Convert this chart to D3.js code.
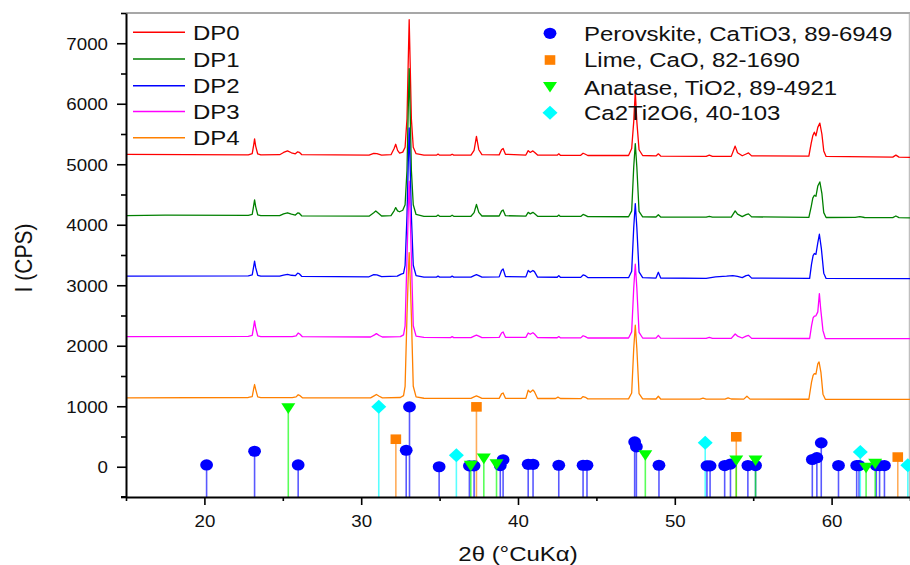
<!DOCTYPE html>
<html><head><meta charset="utf-8">
<script src="https://cdn.jsdelivr.net/npm/d3@7"></script>
<style>html,body{margin:0;padding:0;background:#fff;}svg{display:block;font-family:"Liberation Sans",Arial,sans-serif;}</style>
</head><body>
<svg id="c" width="910" height="565"></svg>
<script>
// ---------- data ----------
const seriesNames = ["DP0","DP1","DP2","DP3","DP4"];
const seriesColors = ["#ff0000","#008000","#0000ff","#ff00ff","#ff8000"];

const DP0 = [[15,5162],[22.8,5155],[23.05,5175],[23.15,5330],[23.2,5420],[23.27,5300],[23.4,5170],[23.6,5155],
[24.8,5158],[25.05,5195],[25.3,5222],[25.55,5190],[25.8,5172],[25.95,5205],[26.05,5198],[26.2,5160],
[30.5,5150],[30.8,5180],[31.0,5175],[31.3,5152],[31.9,5158],[32.1,5260],[32.2,5330],[32.32,5230],[32.45,5185],
[32.65,5200],[32.8,5280],[32.92,5750],[33.0,6700],[33.06,7390],[33.12,6700],[33.2,5750],[33.32,5280],[33.5,5175],[34.0,5150],
[34.8,5150],[34.9,5168],[35.0,5150],[35.7,5150],[35.8,5165],[35.9,5150],
[37.0,5152],[37.2,5230],[37.35,5460],[37.5,5240],[37.7,5158],
[38.8,5155],[38.95,5240],[39.05,5262],[39.2,5165],
[40.5,5152],[40.65,5225],[40.78,5195],[40.95,5220],[41.05,5200],[41.25,5152],
[42.5,5150],[42.6,5172],[42.7,5148],[44.0,5148],[44.15,5182],[44.3,5165],[44.45,5145],
[47.05,5145],[47.25,5260],[47.38,5700],[47.48,6200],[47.58,5700],[47.72,5240],[47.95,5145],
[48.8,5138],[48.95,5172],[49.1,5135],[52.0,5130],[52.2,5150],[52.4,5130],
[53.6,5130],[53.85,5300],[54.0,5190],[54.3,5140],[54.55,5170],[54.7,5187],[54.9,5138],
[58.55,5135],[58.7,5350],[58.8,5470],[58.9,5530],[59.0,5470],[59.12,5610],[59.25,5680],[59.38,5500],[59.5,5220],[59.65,5130],
[63.9,5118],[64.1,5150],[64.3,5118],[65,5115]];

const DP1 = [[15,4150],[17.5,4158],[22.8,4155],[23.05,4170],[23.15,4330],[23.2,4412],[23.27,4300],[23.4,4165],[23.6,4150],
[24.8,4150],[25.05,4180],[25.3,4198],[25.55,4175],[25.8,4160],[25.95,4195],[26.05,4190],[26.2,4148],
[30.5,4142],[30.8,4200],[30.93,4228],[31.1,4190],[31.3,4145],[31.9,4150],[32.1,4230],[32.2,4284],[32.32,4230],[32.45,4215],
[32.65,4240],[32.8,4330],[32.92,4900],[33.0,5900],[33.06,6580],[33.12,5900],[33.2,4900],[33.32,4330],[33.5,4170],[34.0,4140],
[34.8,4140],[34.9,4160],[35.0,4140],[35.7,4140],[35.8,4158],[35.9,4140],
[37.0,4140],[37.2,4200],[37.35,4335],[37.5,4205],[37.7,4145],
[38.8,4145],[38.95,4225],[39.05,4245],[39.2,4150],
[40.5,4142],[40.65,4205],[40.78,4180],[40.95,4205],[41.05,4185],[41.25,4140],
[42.5,4138],[42.6,4160],[42.7,4138],[44.0,4138],[44.15,4170],[44.3,4155],[44.45,4135],
[47.05,4132],[47.25,4230],[47.38,4950],[47.48,5342],[47.58,4950],[47.72,4220],[47.95,4132],
[48.8,4128],[48.95,4165],[49.1,4128],[52.0,4125],[52.2,4140],[52.4,4125],
[53.6,4125],[53.85,4228],[54.0,4175],[54.3,4135],[54.55,4168],[54.7,4180],[54.9,4130],
[58.55,4122],[58.7,4300],[58.8,4440],[58.9,4488],[59.0,4470],[59.12,4640],[59.25,4708],[59.38,4520],[59.5,4200],[59.65,4120],
[61.5,4122],[61.8,4135],[62.1,4120],[63.9,4118],[64.1,4145],[64.3,4118],[65,4115]];

const DP2 = [[15,3150],[22.8,3155],[23.05,3170],[23.15,3320],[23.2,3397],[23.27,3290],[23.4,3165],[23.6,3150],
[24.8,3150],[25.05,3168],[25.3,3180],[25.55,3165],[25.8,3158],[25.95,3200],[26.05,3190],[26.2,3148],
[30.5,3140],[30.8,3175],[31.0,3170],[31.3,3142],[32.3,3150],[32.55,3185],[32.7,3198],
[32.8,3330],[32.92,4150],[33.0,5000],[33.06,5600],[33.12,5000],[33.2,4150],[33.32,3330],[33.5,3160],[34.0,3135],
[34.8,3135],[34.9,3150],[35.0,3135],[35.7,3135],[35.8,3150],[35.9,3135],
[37.0,3135],[37.2,3160],[37.35,3175],[37.5,3160],[37.7,3135],
[38.8,3138],[38.95,3245],[39.05,3270],[39.2,3145],
[40.5,3138],[40.65,3245],[40.78,3215],[40.95,3245],[41.05,3225],[41.25,3135],
[42.5,3132],[42.6,3160],[42.7,3132],[44.0,3130],[44.15,3170],[44.3,3158],[44.45,3128],
[47.05,3125],[47.25,3230],[47.38,3950],[47.48,4350],[47.58,3950],[47.72,3220],[47.95,3125],
[48.8,3118],[48.95,3215],[49.1,3120],[52.0,3115],[52.6,3140],[53.3,3150],[53.7,3160],[54.0,3145],[54.3,3125],
[54.55,3160],[54.7,3168],[54.9,3118],
[58.6,3115],[58.72,3350],[58.82,3490],[58.9,3524],[59.0,3510],[59.12,3700],[59.22,3843],[59.35,3600],[59.5,3200],[59.65,3112],
[65,3110]];

const DP3 = [[15,2150],[22.8,2155],[23.05,2170],[23.15,2330],[23.2,2410],[23.27,2300],[23.4,2165],[23.6,2152],
[25.6,2152],[25.85,2165],[25.98,2210],[26.1,2190],[26.25,2150],
[30.6,2145],[30.85,2180],[30.97,2200],[31.15,2170],[31.35,2145],[32.5,2150],[32.7,2180],
[32.8,2330],[32.92,3450],[33.0,4200],[33.06,4719],[33.12,4200],[33.2,3450],[33.32,2330],[33.5,2160],[34.0,2138],
[35.7,2135],[35.8,2150],[35.9,2135],
[37.0,2135],[37.2,2160],[37.35,2175],[37.5,2160],[37.7,2135],
[38.8,2138],[38.95,2210],[39.05,2228],[39.2,2140],
[40.5,2138],[40.65,2210],[40.78,2190],[40.95,2215],[41.05,2195],[41.25,2135],
[42.5,2132],[42.6,2152],[42.7,2132],[44.0,2130],[44.15,2165],[44.3,2150],[44.45,2128],
[47.05,2128],[47.25,2230],[47.38,2950],[47.48,3347],[47.58,2950],[47.72,2220],[47.95,2128],
[48.8,2125],[48.95,2172],[49.1,2125],[52.0,2122],[52.2,2138],[52.4,2122],
[53.6,2122],[53.85,2195],[54.0,2160],[54.3,2128],[54.55,2160],[54.7,2172],[54.9,2122],
[58.6,2120],[58.72,2330],[58.82,2460],[58.9,2488],[59.0,2495],[59.12,2560],[59.22,2863],[59.3,2620],[59.45,2250],[59.6,2120],
[65,2118]];

const DP4 = [[15,1140],[22.8,1145],[23.05,1160],[23.15,1300],[23.2,1359],[23.27,1280],[23.4,1155],[23.6,1142],
[25.6,1142],[25.85,1155],[25.98,1190],[26.1,1175],[26.25,1140],
[30.6,1138],[30.85,1175],[30.97,1195],[31.15,1165],[31.35,1138],[32.5,1145],[32.7,1175],
[32.8,1330],[32.92,2500],[33.0,3150],[33.06,3540],[33.12,3150],[33.2,2500],[33.32,1330],[33.5,1155],[34.0,1132],
[37.0,1130],[37.2,1155],[37.35,1170],[37.5,1155],[37.7,1130],
[38.8,1130],[38.95,1205],[39.05,1220],[39.2,1132],
[40.5,1130],[40.65,1265],[40.78,1230],[40.95,1270],[41.05,1240],[41.25,1128],
[42.4,1128],[42.55,1150],[42.7,1128],[44.0,1125],[44.15,1160],[44.3,1148],[44.45,1122],
[47.05,1122],[47.25,1220],[47.38,1950],[47.48,2339],[47.58,1950],[47.72,1210],[47.95,1122],
[48.8,1120],[48.95,1165],[49.1,1120],[51.6,1118],[51.8,1135],[52.0,1118],[53.2,1118],[53.4,1138],[53.6,1120],
[54.4,1118],[54.6,1165],[54.8,1118],
[58.55,1116],[58.72,1400],[58.82,1510],[58.9,1540],[59.0,1530],[59.12,1700],[59.2,1732],[59.32,1560],[59.45,1200],[59.6,1115],
[65,1115]];

const seriesData = [DP0, DP1, DP2, DP3, DP4];

// reference stick patterns: [2theta, intensity]
const perovskite = [[20.14,30],[23.2,256],[25.98,30],[32.87,273],[33.08,990],[34.97,0],[36.9,15],[37.2,15],[38.87,20],[39.05,115],
[40.65,40],[40.96,40],[42.6,25],[44.15,25],[44.4,25],[47.44,410],[47.55,330],[48.99,25],[52.05,15],[52.25,15],
[53.18,20],[53.55,45],[54.66,20],[55.15,20],[58.77,120],[59.06,150],[59.34,395],[60.44,20],[61.6,20],[61.75,20],
[62.85,20],[63.06,20],[63.37,20]];
const lime = [[32.21,455],[37.35,990],[53.92,495],[64.22,160]];
const anatase = [[25.35,960],[36.99,10],[37.82,130],[38.63,35],[48.12,185],[53.92,100],[55.15,100],[62.2,-20],[62.78,45]];
const ca2ti2o6 = [[31.12,990],[36.07,190],[51.94,395],[61.83,245],[64.86,25]];

const refNames = ["Perovskite, CaTiO3, 89-6949","Lime, CaO, 82-1690","Anatase, TiO2, 89-4921","Ca2Ti2O6, 40-103"];
const refColors = ["#0000ff","#ff8000","#00ff00","#00ffff"];
const refShapes = ["circle","square","triangle","diamond"];
const refData = [perovskite, lime, anatase, ca2ti2o6];

const xMajor = [20,30,40,50,60];
const xMinor = [15,25,35,45,55,65];
const yMajor = [0,1000,2000,3000,4000,5000,6000,7000];
const yMinor = [-500,500,1500,2500,3500,4500,5500,6500,7500];

const xTitle = "2θ (°CuKα)";
const yTitle = "I (CPS)";

// ---------- drawing ----------
const SX = 1.17; // horizontal stretch of glyphs
const svg = d3.select("#c");
const L = 126, R = 910, T = 13, B = 497;
const x = d3.scaleLinear().domain([15,65]).range([L,R]);
const y = d3.scaleLinear().domain([-500,7500]).range([B,T]);

// frame top/right
svg.append("line").attr("x1",L).attr("x2",R).attr("y1",T).attr("y2",T).attr("stroke","#8a8a8a").attr("stroke-width",1.5);
svg.append("line").attr("x1",909.3).attr("x2",909.3).attr("y1",T).attr("y2",B).attr("stroke","#b0b0b0").attr("stroke-width",1);

const clip = svg.append("clipPath").attr("id","pc").append("rect").attr("x",L).attr("y",T).attr("width",R-L).attr("height",B-T);

// XRD curves
const line = d3.line().x(d=>x(d[0])).y(d=>y(d[1]));
const curves = svg.append("g").attr("clip-path","url(#pc)");
seriesData.forEach((s,i)=>{
  curves.append("path").attr("d",line(s)).attr("fill","none").attr("stroke",seriesColors[i]).attr("stroke-width",1.3).attr("stroke-linejoin","round");
});

// sticks
function marker(g, shape, cx, cy, color){
  if(shape==="circle") g.append("ellipse").attr("cx",cx).attr("cy",cy).attr("rx",6.4).attr("ry",5.6).attr("fill",color);
  else if(shape==="square") g.append("rect").attr("x",cx-5.3).attr("y",cy-4.8).attr("width",10.6).attr("height",9.6).attr("fill",color);
  else if(shape==="triangle") g.append("path").attr("d",`M${cx-7},${cy-5.3}L${cx+7},${cy-5.3}L${cx},${cy+5.3}Z`).attr("fill",color);
  else if(shape==="diamond") g.append("path").attr("d",`M${cx},${cy-7}L${cx+7.5},${cy}L${cx},${cy+7}L${cx-7.5},${cy}Z`).attr("fill",color);
}
const sticks = svg.append("g");
refData.forEach((arr,k)=>{
  arr.forEach(d=>{
    sticks.append("line").attr("x1",x(d[0])).attr("x2",x(d[0])).attr("y1",B).attr("y2",y(d[1]))
      .attr("stroke",refColors[k]).attr("stroke-opacity",0.65).attr("stroke-width",1.6);
  });
});
refData.forEach((arr,k)=>{
  arr.forEach(d=>marker(sticks, refShapes[k], x(d[0]), y(d[1]), refColors[k]));
});

// axes
function styleAxis(g){
  g.select(".domain").attr("stroke","#000").attr("stroke-width",2);
  g.selectAll(".tick line").attr("stroke","#000").attr("stroke-width",1.6);
}
const gy = svg.append("g").attr("transform",`translate(${L},0)`)
  .call(d3.axisLeft(y).tickValues(yMajor).tickSize(9).tickSizeOuter(0).tickFormat(d3.format("d")));
styleAxis(gy);
gy.selectAll(".tick text").attr("x",0).attr("dy","0.36em").attr("transform",`translate(-18,0) scale(${SX},1)`)
  .attr("font-size",16).attr("fill","#111").attr("font-family","Liberation Sans, Arial, sans-serif");
const gy2 = svg.append("g").attr("transform",`translate(${L},0)`)
  .call(d3.axisLeft(y).tickValues(yMinor).tickSize(5).tickSizeOuter(0).tickFormat(""));
styleAxis(gy2); gy2.select(".domain").remove();

const gx = svg.append("g").attr("transform",`translate(0,${B})`)
  .call(d3.axisBottom(x).tickValues(xMajor).tickSize(8).tickSizeOuter(0).tickFormat(d3.format("d")));
styleAxis(gx);
gx.selectAll(".tick text").attr("y",0).attr("dy","0").attr("transform",`translate(0,30) scale(${SX},1)`)
  .attr("font-size",16).attr("fill","#111").attr("font-family","Liberation Sans, Arial, sans-serif");
const gx2 = svg.append("g").attr("transform",`translate(0,${B})`)
  .call(d3.axisBottom(x).tickValues(xMinor).tickSize(4).tickSizeOuter(0).tickFormat(""));
styleAxis(gx2); gx2.select(".domain").remove();
// small left extension of x-axis
svg.append("line").attr("x1",L-5).attr("x2",L).attr("y1",B).attr("y2",B).attr("stroke","#000").attr("stroke-width",2);

// titles
svg.append("g").attr("transform",`translate(518,561) scale(${SX},1)`)
  .append("text").attr("text-anchor","middle").attr("font-size",20.5).attr("fill","#111").text(xTitle);
svg.append("g").attr("transform",`translate(32,258) scale(${SX},1) rotate(-90)`)
  .append("text").attr("text-anchor","middle").attr("font-size",21).attr("fill","#111").text(yTitle);

// legend left
const legY = [32.3,59,85.7,111.5,137.7];
seriesNames.forEach((n,i)=>{
  svg.append("line").attr("x1",133).attr("x2",185).attr("y1",legY[i]).attr("y2",legY[i]).attr("stroke",seriesColors[i]).attr("stroke-width",1.4);
  svg.append("g").attr("transform",`translate(193,${legY[i]+7.6}) scale(${SX},1)`)
    .append("text").attr("font-size",20.5).attr("fill","#111").text(n);
});
// legend right
const leg2Y = [33.3,60,87.3,112.7];
refNames.forEach((n,k)=>{
  marker(svg, refShapes[k], 550, leg2Y[k], refColors[k]);
  svg.append("g").attr("transform",`translate(584,${leg2Y[k]+7.4}) scale(${SX},1)`)
    .append("text").attr("font-size",20.5).attr("fill","#111").text(n);
});
</script>
</body></html>
